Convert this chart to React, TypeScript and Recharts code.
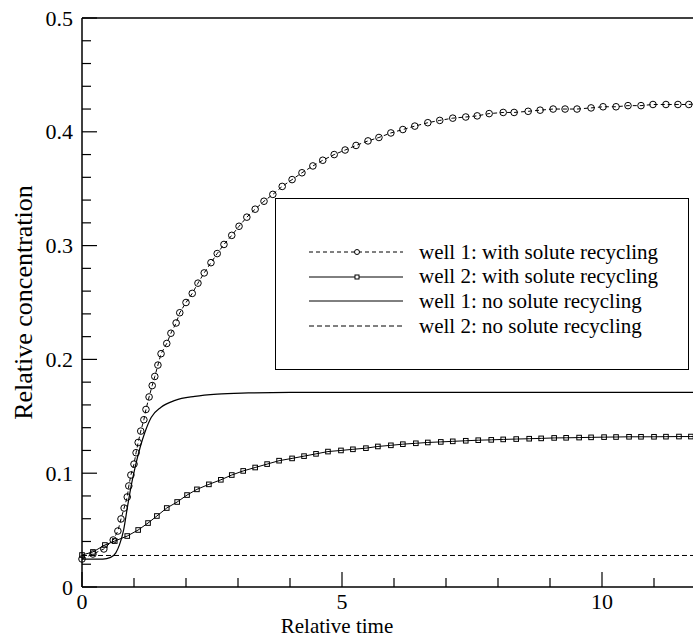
import React from 'react'
import { LineChart, Line, XAxis, YAxis, ReferenceLine, Legend, Label } from 'recharts'

// [relative time, relative concentration] — symbol positions along each curve
const well1Recycling: [number, number][] = [
  [0, 0.0246], [0.21, 0.029], [0.42, 0.0334], [0.6, 0.0413], [0.69, 0.0492], [0.75, 0.0598],
  [0.81, 0.0694], [0.87, 0.0791], [0.9, 0.0888], [0.94, 0.0984], [1.0, 0.108], [1.04, 0.118],
  [1.08, 0.127], [1.13, 0.137], [1.19, 0.147], [1.23, 0.156], [1.29, 0.167], [1.35, 0.177],
  [1.4, 0.185], [1.46, 0.195], [1.52, 0.205], [1.63, 0.214], [1.71, 0.223], [1.81, 0.232],
  [1.88, 0.241], [2.0, 0.25], [2.12, 0.258], [2.23, 0.267], [2.35, 0.276], [2.48, 0.285],
  [2.6, 0.293], [2.73, 0.301], [2.88, 0.309], [3.02, 0.317], [3.17, 0.325], [3.33, 0.332],
  [3.5, 0.339], [3.67, 0.345], [3.85, 0.352], [4.04, 0.358], [4.23, 0.364], [4.44, 0.37],
  [4.63, 0.375], [4.85, 0.38], [5.06, 0.384], [5.27, 0.388], [5.5, 0.392], [5.71, 0.395],
  [5.94, 0.399], [6.17, 0.402], [6.4, 0.405], [6.65, 0.408], [6.88, 0.41], [7.13, 0.412],
  [7.38, 0.413], [7.6, 0.414], [7.83, 0.416], [8.1, 0.417], [8.31, 0.417], [8.58, 0.418],
  [8.81, 0.419], [9.06, 0.42], [9.29, 0.42], [9.52, 0.42], [9.79, 0.421], [10.02, 0.422],
  [10.27, 0.422], [10.5, 0.423], [10.75, 0.423], [10.98, 0.424], [11.23, 0.424], [11.46, 0.424],
  [11.67, 0.424], [11.92, 0.425],
]

const well2Recycling: [number, number][] = [
  [0, 0.0281], [0.21, 0.0308], [0.44, 0.0369], [0.63, 0.0404], [0.87, 0.0448], [1.08, 0.0501],
  [1.27, 0.0562], [1.44, 0.0624], [1.63, 0.0694], [1.83, 0.0747], [2.02, 0.0808], [2.21, 0.0858],
  [2.44, 0.0902], [2.67, 0.0942], [2.88, 0.0984], [3.1, 0.102], [3.33, 0.105], [3.56, 0.108],
  [3.79, 0.111], [4.04, 0.113], [4.27, 0.115], [4.5, 0.117], [4.73, 0.119], [4.98, 0.12],
  [5.21, 0.121], [5.46, 0.122], [5.69, 0.1235], [5.94, 0.1245], [6.17, 0.1255], [6.42, 0.1263],
  [6.65, 0.127], [6.9, 0.1275], [7.13, 0.128], [7.38, 0.1285], [7.62, 0.129], [7.87, 0.1293],
  [8.1, 0.1297], [8.35, 0.13], [8.6, 0.1303], [8.83, 0.1306], [9.08, 0.131], [9.31, 0.1311],
  [9.56, 0.1313], [9.79, 0.1315], [10.04, 0.1317], [10.27, 0.1318], [10.52, 0.132], [10.75, 0.132],
  [11.0, 0.132], [11.23, 0.1321], [11.48, 0.1322], [11.71, 0.1322], [11.96, 0.1323],
]

const well1NoRecycling: [number, number][] = [
  [0, 0.0245], [0.4, 0.0245], [0.55, 0.026], [0.65, 0.03], [0.72, 0.037], [0.8, 0.05],
  [0.88, 0.072], [0.95, 0.09], [1.02, 0.105], [1.12, 0.123], [1.21, 0.136], [1.33, 0.149],
  [1.52, 0.158], [1.79, 0.164], [2.17, 0.1675], [2.6, 0.1695], [3.2, 0.1705], [4, 0.171],
  [12, 0.171],
]

const well2NoRecycling: [number, number][] = [[0, 0.0277], [12, 0.0277]]

const xTicks = [0, 1, 2, 3, 4, 5, 6, 7, 8, 9, 10, 11, 12]
const xLabels = [0, 5, 10]
const yTicks = [
  0, 0.02, 0.04, 0.06, 0.08, 0.1, 0.12, 0.14, 0.16, 0.18, 0.2, 0.22, 0.24,
  0.26, 0.28, 0.3, 0.32, 0.34, 0.36, 0.38, 0.4, 0.42, 0.44, 0.46, 0.48, 0.5,
]
const yLabels = [0, 0.1, 0.2, 0.3, 0.4, 0.5]

const serif = '"Liberation Serif", "Times New Roman", serif'

const toRows = (pts: [number, number][]) => pts.map(([t, c]) => ({ t, c }))

function XTick({ x, y, payload }: any) {
  const major = xLabels.includes(payload.value)
  return (
    <g>
      <line x1={x} x2={x} y1={y} y2={y - (major ? 15 : 9)} stroke="#000" strokeWidth={1.2} />
      {major && (
        <text x={x} y={y + 22} textAnchor="middle" fontSize={22} fontFamily={serif} fill="#000">
          {payload.value}
        </text>
      )}
    </g>
  )
}

function YTick({ x, y, payload }: any) {
  const major = yLabels.includes(payload.value)
  return (
    <g>
      <line x1={x} x2={x + (major ? 15 : 9)} y1={y} y2={y} stroke="#000" strokeWidth={1.2} />
      {major && (
        <text x={x - 9} y={y + 7.5} textAnchor="end" fontSize={22} fontFamily={serif} fill="#000">
          {String(payload.value)}
        </text>
      )}
    </g>
  )
}

const circleDot = (p: any) => (
  <circle key={p.index} cx={p.cx} cy={p.cy} r={3.3} fill="none" stroke="#000" strokeWidth={1} />
)
const squareDot = (p: any) => (
  <rect key={p.index} x={p.cx - 2.3} y={p.cy - 2.3} width={4.6} height={4.6} fill="none" stroke="#000" strokeWidth={1} />
)

const markerOf: Record<string, string> = {
  'well 1: with solute recycling': 'circle',
  'well 2: with solute recycling': 'square',
}

function LegendBox({ payload }: any) {
  return (
    <div
      style={{
        width: 414, height: 172, boxSizing: 'border-box', border: '1px solid #000',
        background: '#fff', position: 'relative', fontFamily: serif, fontSize: 21, color: '#000',
      }}
    >
      {(payload || []).map((p: any, i: number) => {
        const dash = p.payload?.strokeDasharray
        const marker = markerOf[p.value]
        return (
          <div
            key={p.value}
            style={{ position: 'absolute', left: 0, top: 41 + i * 24.7, height: 24, display: 'flex', alignItems: 'center', whiteSpace: 'nowrap' }}
          >
            <svg width={130} height={24}>
              <line x1={33} x2={127} y1={12} y2={12} stroke="#000" strokeWidth={1} strokeDasharray={dash} />
              {marker === 'circle' && <circle cx={81} cy={12} r={2.5} fill="#fff" stroke="#000" />}
              {marker === 'square' && <rect x={79} y={10} width={4} height={4} fill="#fff" stroke="#000" />}
            </svg>
            <span style={{ marginLeft: 13 }}>{p.value}</span>
          </div>
        )
      })}
    </div>
  )
}

export default function App() {
  return (
    <div style={{ position: 'fixed', left: 0, top: 0, width: 693, height: 639, overflow: 'hidden', background: '#fff' }}>
      <LineChart width={716} height={639} margin={{ top: 18, right: 10, bottom: 0, left: 0 }}>
        <XAxis
          type="number"
          dataKey="t"
          domain={[0, 12]}
          ticks={xTicks}
          interval={0}
          height={52}
          tickSize={0}
          tickMargin={0}
          tick={<XTick />}
          axisLine={{ stroke: '#000', strokeWidth: 1.5 }}
          label={
            <Label
              content={({ viewBox }: any) => (
                <text x={viewBox.x + 255} y={viewBox.y + 46} textAnchor="middle" fontSize={21} fontFamily={serif} fill="#000">
                  Relative time
                </text>
              )}
            />
          }
        />
        <YAxis
          type="number"
          domain={[0, 0.5]}
          ticks={yTicks}
          interval={0}
          width={82}
          tickSize={0}
          tickMargin={0}
          tick={<YTick />}
          axisLine={{ stroke: '#000', strokeWidth: 1.5 }}
          label={
            <Label
              content={({ viewBox }: any) => {
                const cy = viewBox.y + viewBox.height / 2
                return (
                  <text
                    x={32} y={cy} transform={`rotate(-90 32 ${cy})`} textAnchor="middle"
                    fontSize={26} fontFamily={serif} fill="#000"
                  >
                    Relative concentration
                  </text>
                )
              }}
            />
          }
        />
        <ReferenceLine y={0.5} stroke="#000" strokeWidth={1.5} />
        <Line
          data={toRows(well2NoRecycling)} dataKey="c" name="well 2: no solute recycling"
          stroke="#000" strokeWidth={1} strokeDasharray="5 3" dot={false} isAnimationActive={false}
        />
        <Line
          data={toRows(well1NoRecycling)} dataKey="c" name="well 1: no solute recycling" type="monotone"
          stroke="#000" strokeWidth={1.2} dot={false} isAnimationActive={false}
        />
        <Line
          data={toRows(well2Recycling)} dataKey="c" name="well 2: with solute recycling"
          stroke="#000" strokeWidth={1} dot={squareDot} isAnimationActive={false}
        />
        <Line
          data={toRows(well1Recycling)} dataKey="c" name="well 1: with solute recycling"
          stroke="#000" strokeWidth={1} strokeDasharray="4 3" dot={circleDot} isAnimationActive={false}
        />
        <Legend
          layout="horizontal"
          verticalAlign="middle"
          align="center"
          itemSorter={null as any}
          content={({ payload }: any) => <LegendBox payload={[...(payload || [])].reverse()} />}
          wrapperStyle={{ position: 'absolute', left: 275, top: 198, width: 414, height: 172 }}
        />
      </LineChart>
    </div>
  )
}
